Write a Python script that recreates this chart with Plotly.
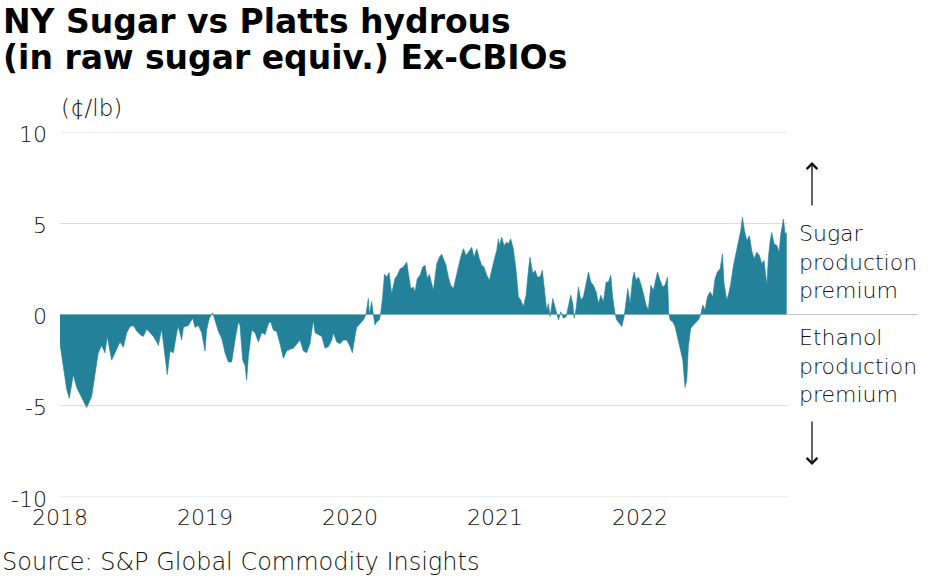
import plotly.graph_objects as go

# decimal year of each reading
years = [
    2018.000, 2018.023, 2018.046, 2018.064, 2018.092, 2018.115, 2018.149, 2018.184, 2018.218, 2018.241,
    2018.264, 2018.287, 2018.310, 2018.326, 2018.356, 2018.391, 2018.414, 2018.437, 2018.460, 2018.483,
    2018.506, 2018.529, 2018.552, 2018.575, 2018.598, 2018.621, 2018.644, 2018.667, 2018.678, 2018.701,
    2018.724, 2018.740, 2018.759, 2018.782, 2018.805, 2018.816, 2018.839, 2018.851, 2018.885, 2018.915,
    2018.931, 2018.954, 2018.977, 2019.000,
    2019.011, 2019.030, 2019.053, 2019.069, 2019.092, 2019.115, 2019.138, 2019.161, 2019.184, 2019.207,
    2019.230, 2019.241, 2019.260, 2019.276, 2019.287, 2019.299, 2019.322, 2019.345, 2019.368, 2019.391,
    2019.414, 2019.437, 2019.453, 2019.471, 2019.494, 2019.517, 2019.540, 2019.563, 2019.586, 2019.609,
    2019.632, 2019.655, 2019.678, 2019.701, 2019.724, 2019.747, 2019.759, 2019.782, 2019.805, 2019.828,
    2019.851, 2019.874, 2019.885, 2019.908, 2019.931, 2019.954, 2019.977, 2020.000,
    2020.016, 2020.034, 2020.046, 2020.069, 2020.092, 2020.110, 2020.126, 2020.133, 2020.149, 2020.161,
    2020.172, 2020.184, 2020.202, 2020.211, 2020.225, 2020.237, 2020.253, 2020.269, 2020.287, 2020.310,
    2020.326, 2020.345, 2020.368, 2020.391, 2020.402, 2020.418, 2020.437, 2020.448, 2020.464, 2020.483,
    2020.501, 2020.517, 2020.533, 2020.547, 2020.563, 2020.575, 2020.598, 2020.616, 2020.632, 2020.644,
    2020.662, 2020.678, 2020.694, 2020.713, 2020.731, 2020.747, 2020.763, 2020.782, 2020.800, 2020.816,
    2020.839, 2020.855, 2020.874, 2020.892, 2020.908, 2020.924, 2020.943, 2020.961, 2020.977, 2020.993,
    2021.011, 2021.023, 2021.030, 2021.046, 2021.062, 2021.080, 2021.092, 2021.108, 2021.126, 2021.145,
    2021.161, 2021.177, 2021.195, 2021.214, 2021.230, 2021.241, 2021.260, 2021.276, 2021.292, 2021.310,
    2021.326, 2021.340, 2021.356, 2021.368, 2021.379, 2021.398, 2021.414, 2021.425, 2021.437, 2021.453,
    2021.471, 2021.490, 2021.506, 2021.522, 2021.536, 2021.545, 2021.559, 2021.575, 2021.591, 2021.609,
    2021.628, 2021.644, 2021.660, 2021.678, 2021.697, 2021.713, 2021.729, 2021.747, 2021.766, 2021.782,
    2021.798, 2021.811, 2021.828, 2021.839, 2021.857, 2021.874, 2021.890, 2021.903, 2021.915, 2021.931,
    2021.949, 2021.959, 2021.972, 2021.989,
    2022.005, 2022.023, 2022.041, 2022.057, 2022.074, 2022.092, 2022.110, 2022.120, 2022.138, 2022.156,
    2022.172, 2022.189, 2022.198, 2022.207, 2022.225, 2022.241, 2022.257, 2022.276, 2022.294, 2022.310,
    2022.322, 2022.333, 2022.349, 2022.368, 2022.386, 2022.402, 2022.418, 2022.432, 2022.448, 2022.464,
    2022.483, 2022.501, 2022.517, 2022.533, 2022.552, 2022.568, 2022.579, 2022.598, 2022.611, 2022.625,
    2022.644, 2022.662, 2022.678, 2022.694, 2022.706, 2022.720, 2022.736, 2022.754, 2022.770, 2022.786,
    2022.805, 2022.823, 2022.839, 2022.855, 2022.874, 2022.885, 2022.897, 2022.908, 2022.924, 2022.943,
    2022.959, 2022.970, 2022.989, 2023.000, 2023.011,
]

# sugar minus hydrous ethanol, cents per lb
spread = [
    -1.6, -2.8, -4.1, -4.6, -3.3, -4.0, -4.5, -5.1, -4.5, -3.4,
    -2.1, -1.7, -2.1, -1.2, -2.5, -1.9, -1.5, -1.8, -1.0, -0.66,
    -0.6, -0.9, -1.1, -1.2, -0.8, -1.0, -1.2, -1.5, -1.7, -0.8,
    -2.3, -3.3, -2.0, -2.1, -1.0, -0.66, -1.4, -0.7, -0.6, -0.2,
    -0.7, -0.6, -1.0, -2.0,
    -0.85, -0.2, 0.1, -0.3, -0.93, -1.3, -2.1, -2.6, -2.6, -1.4,
    -0.4, -0.6, -2.5, -2.8, -3.6, -2.3, -0.85, -1.0, -1.5, -1.0,
    -1.1, -0.5, -0.4, -0.85, -0.93, -1.6, -2.4, -2.0, -1.9, -1.85,
    -1.6, -1.4, -2.0, -2.1, -1.6, -0.3, -1.0, -1.1, -1.2, -1.85,
    -1.75, -1.4, -1.0, -1.5, -1.6, -1.4, -1.4, -1.75,
    -2.1, -1.2, -0.7, -0.5, -0.3, 0.0, 0.88, 0.0, 0.7, 0.0,
    -0.57, -0.4, -0.3, 0.06, 0.97, 2.2, 2.05, 2.3, 1.15, 1.97,
    2.15, 2.5, 2.6, 2.87, 2.15, 1.42, 1.5, 1.24, 1.97, 2.15,
    2.6, 2.7, 1.97, 2.2, 1.7, 1.33, 2.78, 3.14, 3.3, 3.05,
    2.7, 2.05, 1.6, 1.42, 2.15, 2.6, 3.14, 3.6, 3.23, 3.4,
    3.69, 3.14, 3.6, 3.05, 2.7, 2.6, 2.15, 1.87, 2.5, 2.96,
    3.5, 4.14, 3.78, 4.23, 3.78, 3.96, 3.87, 4.14, 3.6, 2.42,
    0.97, 0.79, 0.43, 1.06, 2.42, 3.14, 2.24, 2.42, 2.06, 2.06,
    2.42, 1.51, 0.24, 0.6, -0.12, 0.88, 0.43, 0.0, -0.3, 0.15,
    -0.2, -0.12, 0.43, 1.06, 0.6, -0.2, 0.33, 1.51, 0.79, 0.97,
    1.69, 2.33, 1.78, 1.6, 1.24, 0.6, 1.06, 0.7, 1.78, 1.78,
    2.15, 0.97, 0.0, -0.3, -0.48, -0.66, -0.12, 0.6, 1.42, 0.6,
    1.97, 2.33, 1.87, 2.05,
    1.69, 1.15, 0.52, 0.24, 1.6, 1.33, 1.97, 2.33, 1.87, 1.51,
    1.6, 2.05, 0.06, -0.3, -0.4, -0.66, -1.2, -1.93, -2.48, -4.0,
    -3.56, -1.75, -0.75, -0.57, -0.4, -0.3, 0.0, 0.52, 0.24, 0.97,
    1.24, 0.97, 1.97, 2.33, 2.5, 3.32, 1.69, 0.79, 1.15, 1.69,
    2.69, 3.41, 4.05, 4.59, 5.32, 4.59, 4.05, 4.32, 3.5, 3.05,
    3.41, 3.23, 2.78, 2.96, 1.6, 3.14, 4.05, 4.5, 3.87, 3.78,
    3.41, 4.41, 5.23, 4.41, 4.5,
]

year_ticks = [2018, 2019, 2020, 2021, 2022]
y_ticks = [10, 5, 0, -5, -10]
y_tick_text = ["10", "5", "0", "-5", "-10"]

FILL = "#23829a"
WIDE = "DejaVu Sans"
TXT = "#111111"

fig = go.Figure()
fig.add_trace(go.Scatter(
    x=years, y=spread, mode="lines", fill="tozeroy",
    line=dict(color=FILL, width=0.6), fillcolor=FILL,
    hoverinfo="skip", showlegend=False,
))

W, H = 935, 584
L, R, T, B = 60, 147, 132, 87
pw, ph = W - L - R, H - T - B

def px(x):
    return (x - L) / pw

def py(y):
    return (H - B - y) / ph

tick_font = dict(size=22, family=WIDE, color=TXT, weight=200)

fig.update_layout(
    width=W, height=H,
    margin=dict(l=L, r=R, t=T, b=B),
    paper_bgcolor="white", plot_bgcolor="white",
    font=dict(family=WIDE, color=TXT),
    xaxis=dict(
        range=[2018, 2023.02], tickvals=year_ticks, ticktext=[str(v) for v in year_ticks],
        showgrid=False, zeroline=False, showline=False, ticks="",
        tickfont=tick_font, ticklabelstandoff=5,
    ),
    yaxis=dict(
        range=[-10, 10], tickvals=y_ticks, ticktext=y_tick_text,
        showgrid=True, gridcolor="#dddddd", gridwidth=1,
        zeroline=False, showline=False, ticks="",
        tickfont=tick_font, ticklabelstandoff=12, ticklabelshift=2,
    ),
)

# edge gridlines and the zero line running out to the side labels
for gv in (10, -10):
    fig.add_shape(type="line", xref="paper", yref="y", x0=0, x1=1, y0=gv, y1=gv,
                  line=dict(color="#dddddd", width=1), layer="below")
fig.add_shape(type="line", xref="paper", yref="y", x0=0, x1=px(918), y0=0, y1=0,
              line=dict(color="#c8c8c8", width=1), layer="below")

ann = []
ann.append(dict(text="<b>NY Sugar vs Platts hydrous</b>", x=px(1), y=py(21), xanchor="left", yanchor="middle",
                font=dict(size=33, color="#000000", family=WIDE)))
ann.append(dict(text="<b>(in raw sugar equiv.) Ex-CBIOs</b>", x=px(1), y=py(57), xanchor="left", yanchor="middle",
                font=dict(size=33, color="#000000", family=WIDE)))
ann.append(dict(text="(¢/lb)", x=px(59), y=py(108), xanchor="left", yanchor="middle",
                font=dict(size=23, color=TXT, family=WIDE, weight=200)))
ann.append(dict(text="Source: S&P Global Commodity Insights", x=px(0), y=py(562), xanchor="left", yanchor="middle",
                font=dict(size=24, color=TXT, family=WIDE, weight=200)))
ann.append(dict(text="Sugar<br>production<br>premium", x=px(797), y=py(262), xanchor="left", yanchor="middle",
                align="left", font=dict(size=22, color=TXT, family=WIDE, weight=200)))
ann.append(dict(text="Ethanol<br>production<br>premium", x=px(797), y=py(366), xanchor="left", yanchor="middle",
                align="left", font=dict(size=22, color=TXT, family=WIDE, weight=200)))
ann.append(dict(text="", x=px(812), y=py(162), showarrow=True, ax=0, ay=45,
                arrowhead=4, arrowsize=1.6, arrowwidth=1.3, arrowcolor=TXT))
ann.append(dict(text="", x=px(812), y=py(465), showarrow=True, ax=0, ay=-45,
                arrowhead=4, arrowsize=1.6, arrowwidth=1.3, arrowcolor=TXT))
for a in ann:
    a.setdefault("xref", "paper")
    a.setdefault("yref", "paper")
    a.setdefault("showarrow", False)
fig.update_layout(annotations=ann)

fig.write_html("out.html")
